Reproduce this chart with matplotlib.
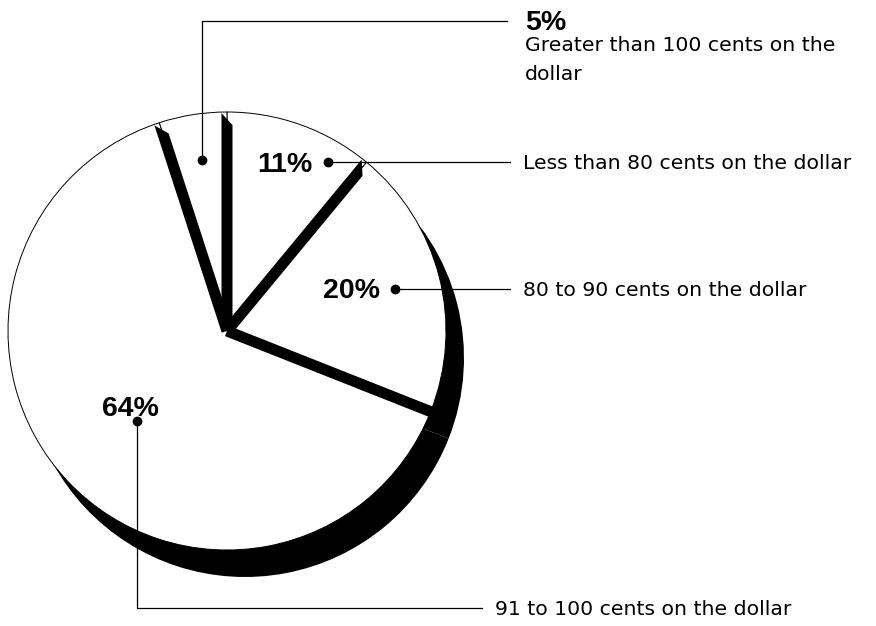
import numpy as np
import matplotlib
matplotlib.use('Agg')
import matplotlib.pyplot as plt
from matplotlib.patches import Polygon

# data, clockwise from 12 o'clock
categories = ['Less than 80 cents on the dollar',
              '80 to 90 cents on the dollar',
              '91 to 100 cents on the dollar',
              'Greater than 100 cents on the dollar']
pcts = [11, 20, 64, 5]
pct_labels = ['11%', '20%', '64%', '5%']

W, H = 876, 626
fig = plt.figure(figsize=(W / 100, H / 100), dpi=100)
ax = fig.add_axes([0, 0, 1, 1])

cx, cy, R = 227, H - 331, 219      # pie centre / radius in pixel units
sdx, sdy = 18, -27                  # drop shadow offset

# black shadow pie, then white faces on top
ax.pie(pcts, startangle=90, counterclock=False, center=(cx + sdx, cy + sdy),
       radius=R, colors=['black'] * 4,
       wedgeprops=dict(linewidth=0, zorder=1))
ax.pie(pcts, startangle=90, counterclock=False, center=(cx, cy), radius=R,
       colors=['white'] * 4,
       wedgeprops=dict(edgecolor='black', linewidth=0.7, zorder=2))

# thick black separators along the slice edges
bounds = 90 - 360 * np.cumsum([0] + pcts[:-1]) / 100
O = np.array([cx, cy])
S = np.array([cx + sdx, cy + sdy])
half = 5.5
for th in np.radians(bounds):
    u = np.array([np.cos(th), np.sin(th)])
    n = np.array([-np.sin(th), np.cos(th)])
    L1 = np.sqrt((R - 1) ** 2 - half ** 2)
    L2 = L1 - 12
    if np.hypot(*(O + R * u - S)) < R - 2:
        # edge runs into the shadow: let the band merge with it
        L1 = L2 = R + 4
    p1 = O + half * n
    p2 = p1 + L1 * u
    p4 = O - half * n
    p3 = p4 + L2 * u
    ax.add_patch(Polygon([p1, p2, p3, p4], closed=True, fc='black',
                         ec='none', zorder=3))

lkw = dict(color='black', lw=0.9, zorder=4)
dkw = dict(marker='o', ms=6, color='black', zorder=5)
big = dict(family='Liberation Sans', weight='bold', fontsize=20.5, zorder=6)
small = dict(family='DejaVu Sans', fontsize=14.7, zorder=6)

# 11%
ax.plot([328, 510], [H - 162, H - 162], **lkw)
ax.plot(328, H - 162, **dkw)
ax.text(257, H - 172, pct_labels[0], va='baseline', **big)
ax.text(523, H - 169, categories[0], va='baseline', **small)

# 20%
ax.plot([395, 510], [H - 289, H - 289], **lkw)
ax.plot(395, H - 289, **dkw)
ax.text(323, H - 298, pct_labels[1], va='baseline', **big)
ax.text(523, H - 296, categories[1], va='baseline', **small)

# 64%
ax.plot([137, 137, 482], [H - 421, H - 608, H - 608], **lkw)
ax.plot(137, H - 421, **dkw)
ax.text(102, H - 416, pct_labels[2], va='baseline', **big)
ax.text(495, H - 615, categories[2], va='baseline', **small)

# 5%
ax.plot([202, 202, 507], [H - 160, H - 21, H - 21], **lkw)
ax.plot(202, H - 160, **dkw)
ax.text(525, H - 30, pct_labels[3], va='baseline', **big)
line1, line2 = categories[3].rsplit(' ', 1)
ax.text(525, H - 51, line1, va='baseline', **small)
ax.text(525, H - 80, line2, va='baseline', **small)

ax.set_xlim(0, W)
ax.set_ylim(0, H)
ax.axis('off')
fig.savefig('out.png', dpi=100, facecolor='white')
